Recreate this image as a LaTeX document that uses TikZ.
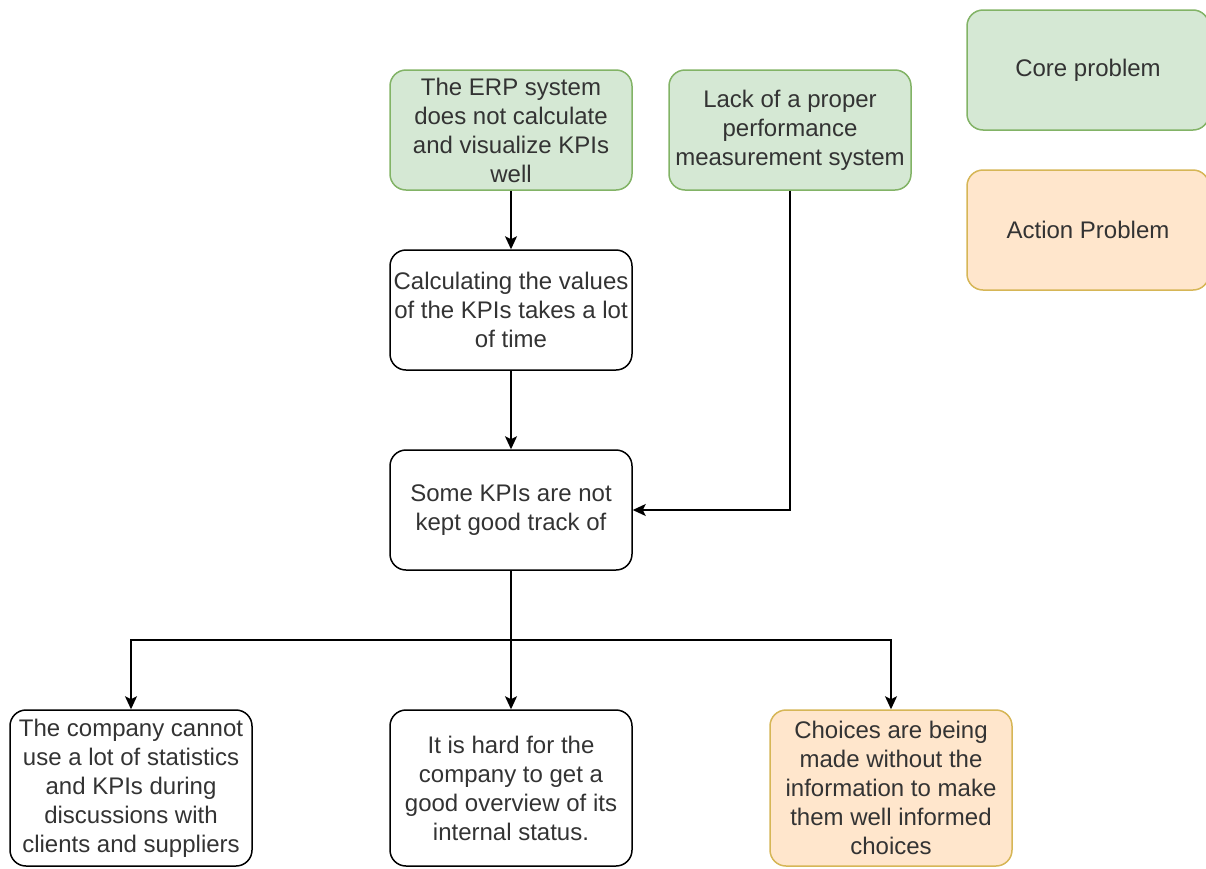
\documentclass[tikz,border=0pt]{standalone}
\usepackage{fontspec}
\setmainfont{Liberation Sans}
\definecolor{CORE}{HTML}{D5E8D4}
\definecolor{COREline}{HTML}{82B366}
\definecolor{ACTION}{HTML}{FFE6CC}
\definecolor{ACTIONline}{HTML}{D6B656}
\definecolor{TXT}{HTML}{333333}
\usetikzlibrary{arrows.meta,positioning,calc}

\begin{document}
\begin{tikzpicture}
[x=1pt, y=-1pt,
box/.style ={rectangle, draw=black, line width=1.5pt, align=center, rounded corners=16pt,
minimum width=242pt, minimum height=120pt, inner sep=0pt, text=TXT,
font=\fontsize{24}{29}\selectfont},
core/.style={box, fill=CORE, draw=COREline},
action/.style={box, fill=ACTION, draw=ACTIONline},
low/.style={minimum height=156pt},
dedge/.style={line width=1.5pt, black, >={Stealth[length=13pt,width=12pt,inset=3pt]}}]
\useasboundingbox (0,0) rectangle (1206,868);
% causes
\node[core] (erp) at (511,130) {The ERP system\\does not calculate\\and visualize KPIs\\well};
\node[core] (lack) at (790,130) {Lack of a proper\\performance\\measurement system};
% legend
\node[core] (leg1) at (1088,70) {Core problem};
\node[action] (leg2) at (1088,230) {Action Problem};
% chain
\node[box] (calc) at (511,310) {Calculating the values\\of the KPIs takes a lot\\of time};
\node[box] (kpi) at (511,510) {Some KPIs are not\\kept good track of};
% effects
\node[box,low] (comp) at (131,788) {The company cannot\\use a lot of statistics\\and KPIs during\\discussions with\\clients and suppliers};
\node[box,low] (hard) at (511,788) {It is hard for the\\company to get a\\good overview of its\\internal status.};
\node[action,low] (choice) at (891,788) {Choices are being\\made without the\\information to make\\them well informed\\choices};
\coordinate (split) at (511,640);
\draw[->,dedge] (erp) -- (calc);
\draw[->,dedge] (calc) -- (kpi);
\draw[->,dedge] (lack.south) |- (kpi.east);
\draw[->,dedge] (kpi) -- (hard);
\draw[->,dedge] (split) -| (comp.north);
\draw[->,dedge] (split) -| (choice.north);
\end{tikzpicture}
\end{document}
